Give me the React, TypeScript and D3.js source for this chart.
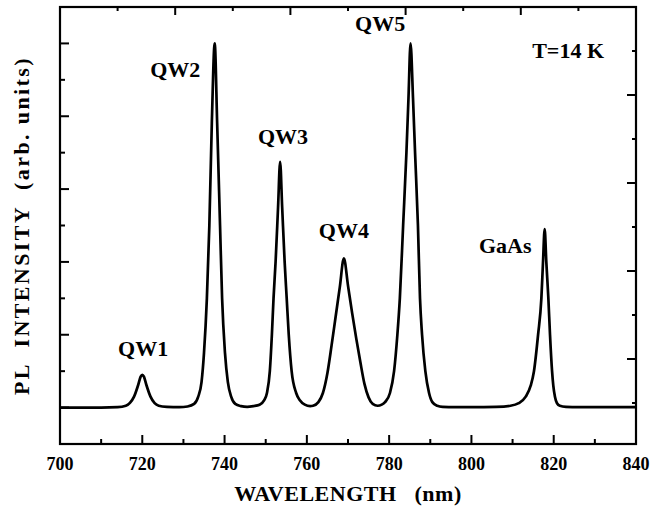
import React from 'react'
import * as d3 from 'd3'

// spectrum: wavelength (nm) and PL intensity (arb. units)
const wavelengths = [
  700, 710, 714, 716, 717, 718, 719, 719.6, 720, 720.4, 721, 722, 723, 724, 726, 729,
  731, 732.6, 733.6, 734.4, 735.0, 735.7, 736.3, 736.9, 737.6, 738.2, 738.9, 739.4, 740.1, 740.8, 741.6, 742.6, 744.0,
  745.5, 747, 748.5, 749.6, 750.3, 751.0, 751.5, 751.9, 752.4, 753.0, 753.5, 754.0, 754.6, 755.1, 755.6, 756.3, 757.4, 758.3, 759.5,
  760.8, 761.5, 762.8, 763.9, 765.0, 766.0, 767.0, 768.0, 769.0, 770.0, 771.0, 772.0, 773.0, 774.0, 775.0, 776.0,
  777.2, 778.2, 779.0, 780.2, 781.2, 782.0, 782.6, 783.4, 784.2, 784.7, 785.2, 785.8, 786.3, 787.0, 787.5, 788.0, 788.8, 789.7, 790.5, 791.7, 793, 796,
  800, 806, 809.5, 811.5, 813.2, 814.4, 815.2, 816.2, 817.0, 817.4, 817.8, 818.2, 818.7, 819.1, 819.6, 819.9, 820.3, 820.8, 821.5, 823, 826, 840,
]
const intensities = [
  0, 0, 0.01, 0.05, 0.13, 0.3, 0.62, 0.85, 0.9, 0.85, 0.62, 0.3, 0.12, 0.05, 0.02, 0.01,
  0.03, 0.1, 0.3, 0.7, 1.5, 3.0, 5.0, 7.8, 10.0, 7.8, 5.0, 3.0, 1.5, 0.7, 0.3, 0.1, 0.04,
  0.02, 0.04, 0.08, 0.2, 0.4, 1.0, 2.0, 3.0, 4.0, 5.5, 6.75, 5.5, 4.0, 3.0, 2.0, 1.0, 0.4, 0.2, 0.08,
  0.04, 0.05, 0.15, 0.4, 0.95, 1.7, 2.5, 3.3, 4.1, 3.35, 2.6, 1.9, 1.25, 0.65, 0.28, 0.1,
  0.05, 0.08, 0.15, 0.4, 1.0, 2.0, 3.0, 5.0, 7.0, 8.5, 10.0, 8.5, 7.0, 5.0, 3.0, 2.0, 1.0, 0.4, 0.15, 0.05, 0.02, 0.01,
  0.01, 0.02, 0.05, 0.12, 0.3, 0.6, 1.0, 2.0, 3.0, 4.0, 4.9, 4.0, 3.0, 2.0, 1.0, 0.6, 0.3, 0.12, 0.05, 0.02, 0.01, 0.01,
]

// peak labels, placed in data units
const peakNames = ['QW1', 'QW2', 'QW3', 'QW4', 'QW5', 'GaAs', 'T=14 K']
const peakLabelX = [720.2, 728, 754.2, 769.0, 777.8, 808.2, 823.5]
const peakLabelY = [1.42, 9.07, 7.23, 4.66, 10.33, 4.25, 9.59]

const xTicks = [700, 710, 720, 730, 740, 750, 760, 770, 780, 790, 800, 810, 820, 830, 840]
const xTickLabels = [700, 720, 740, 760, 780, 800, 820, 840]
const topTicks = [714, 728, 742, 756, 770, 784, 798, 812, 826]
const leftTicks = [0, 1, 2, 3, 4, 5, 6, 7, 8, 9, 10]
const rightTicks = [0, 1, 2, 3, 4, 5, 6, 7, 8]

const W = 652
const H = 512
const margin = {top: 7, right: 16, bottom: 68, left: 60}
const font = '"Liberation Serif", "Times New Roman", serif'

export default function App() {
  const x = d3.scaleLinear().domain([700, 840]).range([margin.left, W - margin.right])
  const y = d3.scaleLinear().domain([-1, 11]).range([H - margin.bottom, margin.top])
  // the right frame carries its own, coarser tick spacing
  const yR = d3.scaleLinear().domain([0, 8]).range([403, 51])

  const pts: [number, number][] = wavelengths.map((w, i) => [w, intensities[i]])
  const line = d3.line<[number, number]>()
    .x(d => x(d[0]))
    .y(d => y(d[1]))
    .curve(d3.curveMonotoneX)

  const x0 = x(700), x1 = x(840), y0 = y(-1), y1 = y(11)

  return (
    <svg width={W} height={H} style={{position: 'absolute', left: 0, top: 0, background: '#fff'}}>
      <g stroke="#000" strokeWidth={2} fill="none">
        {xTicks.map(t => (
          <line key={'b' + t} x1={x(t)} x2={x(t)} y1={y0} y2={y0 - (t % 20 === 0 ? 9 : 5)} />
        ))}
        {topTicks.map((t, i) => (
          <line key={'t' + t} x1={x(t)} x2={x(t)} y1={y1} y2={y1 + (i % 2 === 0 ? 4 : 8)} />
        ))}
        {leftTicks.map(t => (
          <line key={'l' + t} x1={x0} x2={x0 + (t % 2 === 0 ? 9 : 5)} y1={y(t)} y2={y(t)} />
        ))}
        {rightTicks.map(t => (
          <line key={'r' + t} x1={x1} x2={x1 - (t % 2 === 0 ? 4 : 9)} y1={yR(t)} y2={yR(t)} />
        ))}
        <rect x={x0} y={y1} width={x1 - x0} height={y0 - y1} strokeWidth={2.2} />
      </g>

      <path d={line(pts) ?? ''} fill="none" stroke="#000" strokeWidth={2.7} strokeLinejoin="round" />

      <g fontFamily={font} fontWeight="bold" fontSize={18} textAnchor="middle">
        {xTickLabels.map(t => (
          <text key={t} x={x(t)} y={470}>{t}</text>
        ))}
      </g>

      <g fontFamily={font} fontWeight="bold" fontSize={22} textAnchor="middle">
        {peakNames.map((n, i) => (
          <text key={n} x={x(peakLabelX[i])} y={y(peakLabelY[i])}>{n}</text>
        ))}
      </g>

      <text x={(x0 + x1) / 2} y={501} fontFamily={font} fontWeight="bold" fontSize={22} letterSpacing={0.5}
        textAnchor="middle" style={{whiteSpace: 'pre'}}>{'WAVELENGTH   (nm)'}</text>
      <text transform={`translate(29,${(y0 + y1) / 2}) rotate(-90)`} fontFamily={font} fontWeight="bold"
        fontSize={22} letterSpacing={2.4} textAnchor="middle" style={{whiteSpace: 'pre'}}>
        {'PL  INTENSITY  (arb. units)'}
      </text>
    </svg>
  )
}
